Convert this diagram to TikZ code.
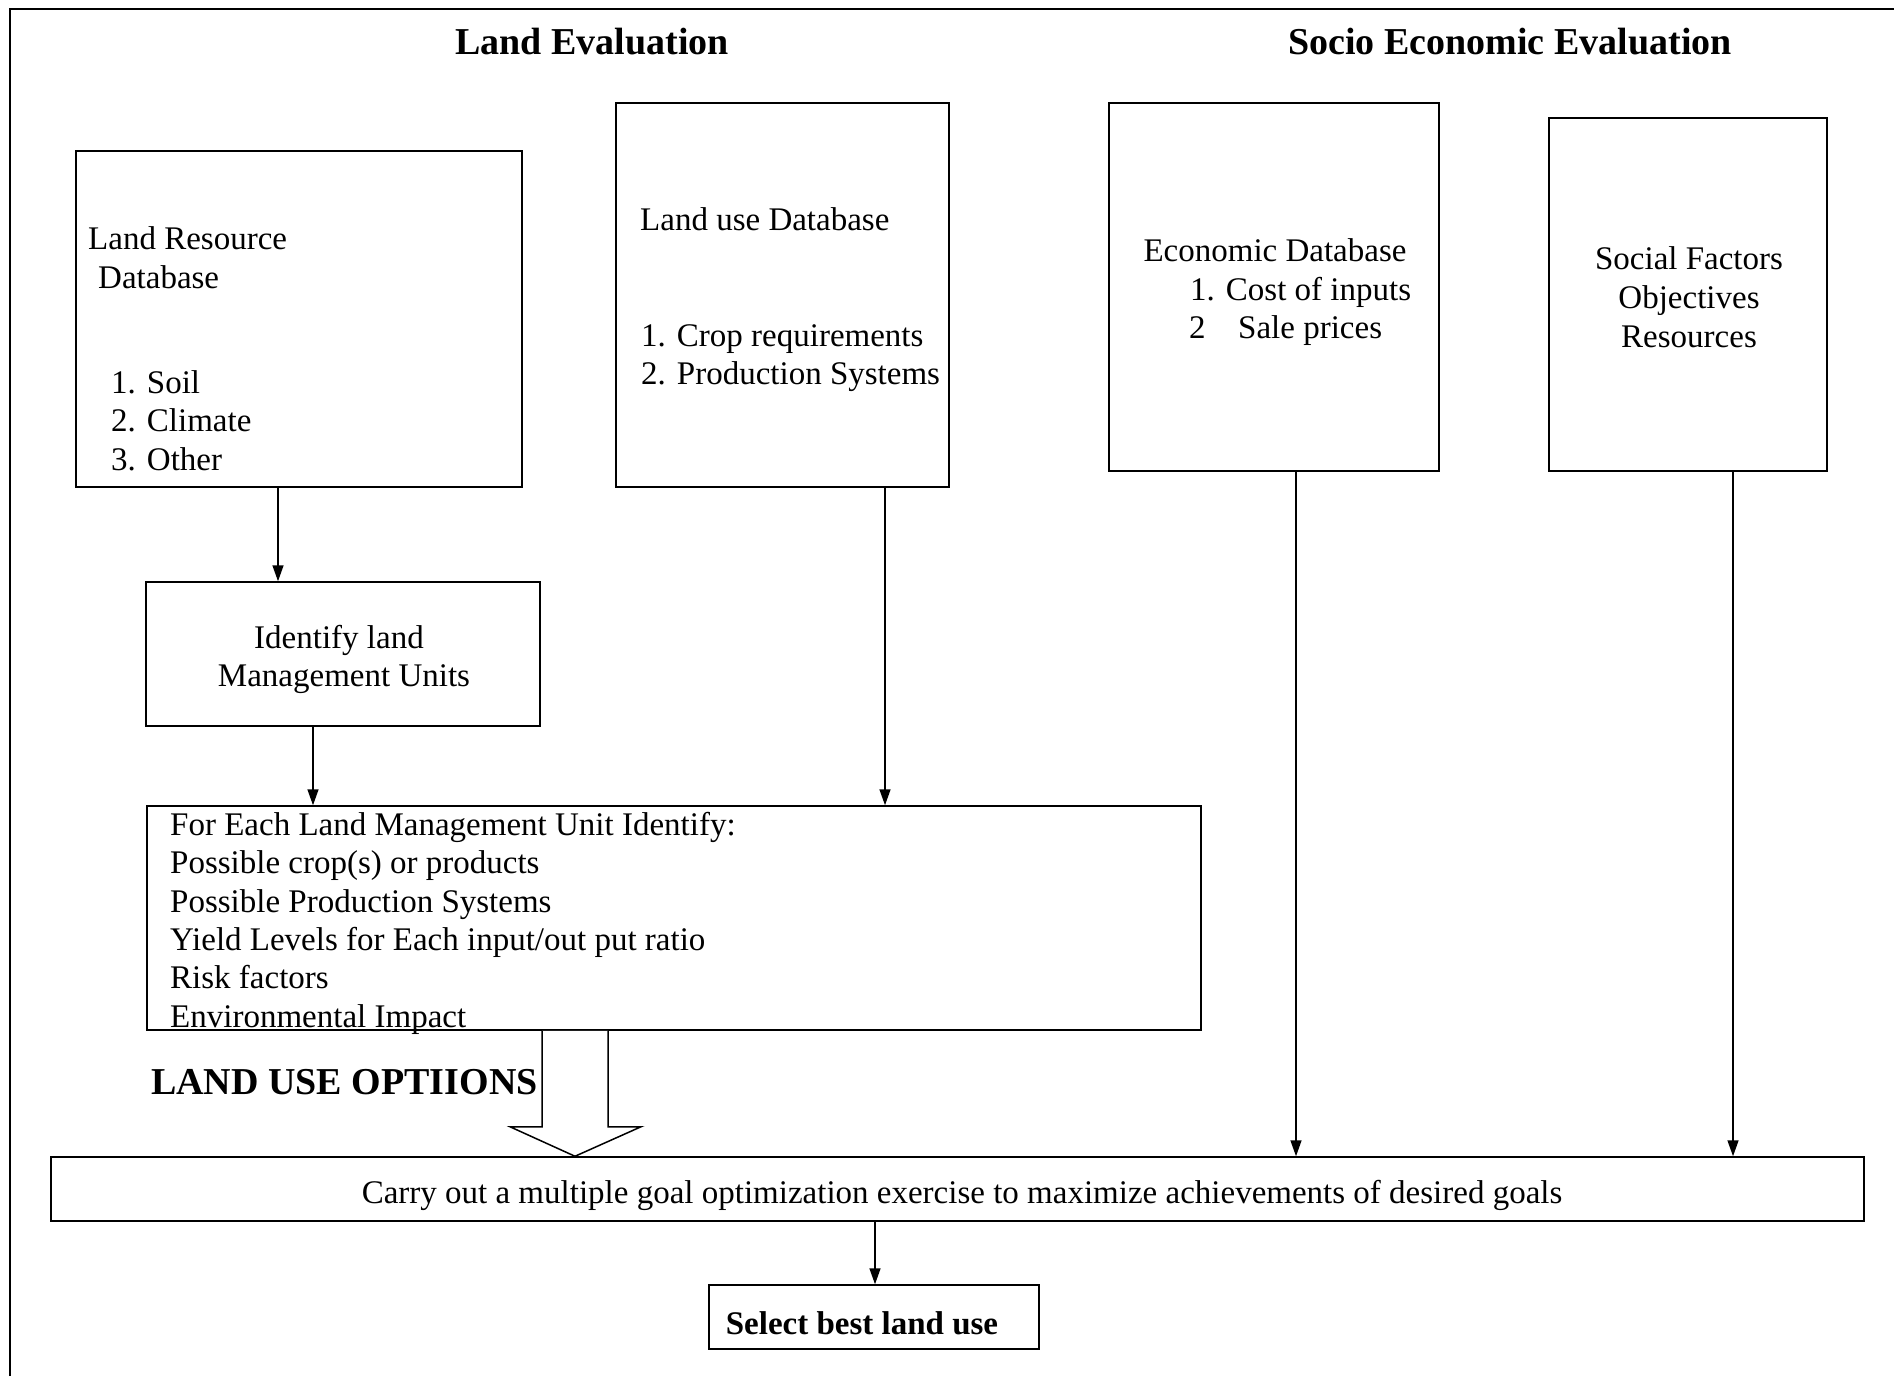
\documentclass[tikz,border=0pt]{standalone}
\usepackage{fontspec}
\setmainfont{Liberation Serif}
\usetikzlibrary{arrows.meta,calc}
\begin{document}
\begin{tikzpicture}[x=1pt,y=-1pt,
  box/.style={draw,line width=1.5pt,inner sep=0pt},
  txt/.style={inner sep=0pt,anchor=west,yshift=-8.5pt,font=\fontsize{33}{38}\selectfont,text height=0.7em,text depth=0.2em},
  ctxt/.style={txt,anchor=center},
  ttl/.style={inner sep=0pt,font=\fontsize{38}{44}\selectfont\bfseries},
  arr/.style={line width=1.5pt,-{Triangle[length=16pt,width=11pt]}}]
\useasboundingbox (0,0) rectangle (1894,1376);
% frame lines
\draw[line width=1.5pt] (10,1376) -- (10,9) -- (1894,9);
% headings
\node[ttl] (h1) at (592,42) {Land Evaluation};
\node[ttl] (h2) at (1510,42) {Socio Economic Evaluation};
% boxes
\node[box,minimum width=446pt,minimum height=336pt] (lrd) at (299,319) {};
\node[box,minimum width=333pt,minimum height=384pt] (lud) at (782.5,295) {};
\node[box,minimum width=330pt,minimum height=368pt] (econ) at (1274,287) {};
\node[box,minimum width=278pt,minimum height=353pt] (soc) at (1688,294.5) {};
\node[box,minimum width=394pt,minimum height=144pt] (ident) at (343,654) {};
\node[box,minimum width=1054pt,minimum height=224pt] (each) at (674,918) {};
\node[box,minimum width=1813pt,minimum height=64pt] (carry) at (957.5,1189) {};
\node[box,minimum width=330pt,minimum height=64pt] (sel) at (874,1317) {};
% box texts
\node[txt] (t1) at (88,238) {Land Resource};
\node[txt] (t2) at (98,277) {Database};
\node[txt] (t3) at (111,382) {1. Soil};
\node[txt] (t4) at (111,420) {2. Climate};
\node[txt] (t5) at (111,459) {3. Other};
\node[txt] (u1) at (640,219) {Land use Database};
\node[txt] (u2) at (641,335) {1. Crop requirements};
\node[txt] (u3) at (641,373) {2. Production Systems};
\node[ctxt] (e1) at (1275,250) {Economic Database};
\node[txt] (e2) at (1190,289) {1. Cost of inputs};
\node[txt] (e3) at (1189,327) {2};
\node[txt] (e4) at (1238,327) {Sale prices};
\node[ctxt] (s1) at (1689,258) {Social Factors};
\node[ctxt] (s2) at (1689,297) {Objectives};
\node[ctxt] (s3) at (1689,336) {Resources};
\node[ctxt] (i1) at (339,637) {Identify land};
\node[ctxt] (i2) at (344,675) {Management Units};
\node[txt] (f1) at (170,824) {For Each Land Management Unit Identify:};
\node[txt] (f2) at (170,862) {Possible crop(s) or products};
\node[txt] (f3) at (170,901) {Possible Production Systems};
\node[txt] (f4) at (170,939) {Yield Levels for Each input/out put ratio};
\node[txt] (f5) at (170,977) {Risk factors};
\node[txt] (f6) at (170,1016) {Environmental Impact};
\node[ctxt] (c1) at (962,1192) {Carry out a multiple goal optimization exercise to maximize achievements of desired goals};
\node[ctxt,font=\fontsize{33}{38}\selectfont\bfseries] (b1) at (862,1323) {Select best land use};
\node[inner sep=0pt,anchor=west,font=\fontsize{38}{44}\selectfont\bfseries] (opt) at (151,1082) {LAND USE OPTIIONS};
% connector columns
\coordinate (xa) at (278,0);
\coordinate (xb) at (313,0);
\coordinate (xc) at (885,0);
\coordinate (xd) at (1296,0);
\coordinate (xe) at (1733,0);
\coordinate (xf) at (875,0);
\draw[arr] (lrd.south -| xa) -- (ident.north -| xa);
\draw[arr] (ident.south -| xb) -- (each.north -| xb);
\draw[arr] (lud.south -| xc) -- (each.north -| xc);
\draw[arr] (econ.south -| xd) -- (carry.north -| xd);
\draw[arr] (soc.south -| xe) -- (carry.north -| xe);
\draw[arr] (carry.south -| xf) -- (sel.north -| xf);
% hollow block arrow
\coordinate (bl) at (542,0);
\coordinate (br) at (608,0);
\coordinate (tip) at (575,0);
\draw[line width=1.5pt,fill=white,line join=miter]
  (each.south -| bl) -- ++(0,96) -- ++(-32,0) -- (carry.north -| tip)
  -- ($(each.south -| br)+(33,96)$) -- ++(-33,0) -- (each.south -| br);
\end{tikzpicture}
\end{document}
